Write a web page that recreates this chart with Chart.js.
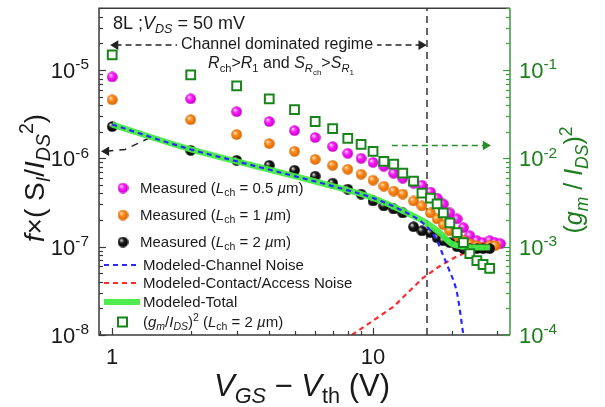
<!DOCTYPE html>
<html>
<head>
<meta charset="utf-8">
<script src="https://cdn.jsdelivr.net/npm/chart.js@4.4.0/dist/chart.umd.min.js"></script>
<style>
html, body { margin: 0; padding: 0; background: #fff; }
#wrap { position: relative; width: 605px; height: 407px; }
</style>
</head>
<body>
<div id="wrap"><canvas id="noiseChart" width="605" height="407"></canvas></div>
<script>
// V_GS - V_th values shared by the measured series
const vgs = [1, 2, 3, 4, 5, 6, 7, 8, 9, 10, 11, 12, 13, 14.3, 15.4, 16.6, 17.6, 18.6, 19.7, 21, 22.2, 23.5, 25, 26.4, 28, 29.4, 30.8];

// f x (S_I / I_DS^2), left axis
const measured05 = [8.34e-6, 4.72e-6, 3.37e-6, 2.61e-6, 2.06e-6, 1.72e-6, 1.36e-6, 1.14e-6, 1.0e-6, 9.0e-7, 8.13e-7, 6.78e-7, 5.96e-7, 5.24e-7, 4.97e-7, 4.15e-7, 3.55e-7, 3.04e-7, 2.41e-7, 2.06e-7, 1.64e-7, 1.33e-7, 1.17e-7, 1.11e-7, 1.17e-7, 1.11e-7, 1.08e-7];
const measured1 = [4.60e-6, 2.74e-6, 1.86e-6, 1.47e-6, 1.20e-6, 9.75e-7, 8.34e-7, 7.52e-7, 6.61e-7, 5.66e-7, 4.84e-7, 4.26e-7, 3.94e-7, 3.29e-7, 2.89e-7, 2.41e-7, 2.06e-7, 1.77e-7, 1.51e-7, 1.30e-7, 1.17e-7, 1.08e-7, 1.03e-7, 9.75e-8, 1.03e-7, 1.03e-7, null];
const measured2 = [2.29e-6, 1.23e-6, 9.50e-7, 8.34e-7, 7.33e-7, 6.28e-7, 5.24e-7, 4.48e-7, 3.94e-7, 3.29e-7, 2.89e-7, 2.67e-7, 2.41e-7, 1.68e-7, 1.51e-7, 1.44e-7, 1.26e-7, 1.17e-7, 1.11e-7, 1.0e-7, 9.5e-8, 9.5e-8, 9.5e-8, 9.5e-8, 9.5e-8, null, null];

// (gm/IDS)^2 for Lch = 2 um, right axis
const gmRatio = [0.148, 0.0879, 0.0661, 0.0472, 0.0356, 0.0261, 0.0217, 0.0168, 0.0144, 0.0120, 0.00925, 0.00857, 0.00678, 0.00552, 0.00404, 0.00355, 0.00304, 0.00241, 0.00186, 0.00144, 0.00111, 0.000834, 0.000696, 0.000628, 0.000566, null, null];

// modeled curves
const totalV = [1, 2, 3, 5, 7, 10, 13, 16, 18, 20, 22, 25, 28];
const modelTotal = [2.41e-6, 1.26e-6, 9.25e-7, 6.28e-7, 4.84e-7, 3.55e-7, 2.54e-7, 1.86e-7, 1.44e-7, 1.08e-7, 1.0e-7, 9.8e-8, 9.8e-8];
const channelV = [1, 2, 3, 5, 7, 10, 13, 15, 16.5, 17.5, 18.6, 19.5, 21, 22.2];
const channelNoise = [2.41e-6, 1.26e-6, 9.25e-7, 6.28e-7, 4.84e-7, 3.55e-7, 2.54e-7, 2.0e-7, 1.55e-7, 1.2e-7, 7.9e-8, 5.6e-8, 2.96e-8, 1.0e-8];
const contactV = [8.3, 12, 15.5, 18, 20.5, 23.5];
const contactNoise = [1e-8, 2.1e-8, 4.4e-8, 6.0e-8, 7.5e-8, 9.0e-8];

// annotation arrows / regime boundary
const regimeEdge = 16.1;
const regimeArrowV = [1.03, 15.3];
const regimeArrowY = 1.91e-5;
const leftArrowV = [0.95, 1.12, 1.4];
const leftArrowY = [1.2e-6, 1.26e-6, 1.72e-6];
const rightArrowV = [11.8, 27];
const rightArrowY = 0.014;

const X_MIN = 0.89, X_MAX = 33.5;
const Y_MIN = 1e-8, Y_MAX = 5e-5;
const Y2_MIN = 1e-4, Y2_MAX = 0.5;

const FONT = '"Liberation Sans", Arial, Helvetica, sans-serif';
const GREEN_AX = '#1e7d1e';
const SQ_GREEN = '#17851a';

function pts(xs, ys) {
    const out = [];
    xs.forEach((x, i) => { if (ys[i] != null) out.push({ x: x, y: ys[i] }); });
    return out;
}

function ball(color, light, dark) {
    const c = document.createElement('canvas');
    c.width = 11; c.height = 11;
    const g = c.getContext('2d');
    const grad = g.createRadialGradient(3.6, 3.6, 0.3, 5.5, 5.5, 5.5);
    grad.addColorStop(0, light);
    grad.addColorStop(0.4, color);
    grad.addColorStop(1, dark);
    g.fillStyle = grad;
    g.beginPath();
    g.arc(5.5, 5.5, 5.3, 0, Math.PI * 2);
    g.fill();
    return c;
}
const ballMag = ball('#ff1cff', '#ffe0ff', '#c000c0');
const ballOra = ball('#ff8c1a', '#ffe4c8', '#d46400');
const ballBlk = ball('#1a1a1a', '#e8e8e8', '#000000');

// rich text: style flags i=italic, b=sub, B=sub-sub, p=sup
function layoutRich(ctx, parts, size) {
    let w = 0;
    const out = [];
    parts.forEach(p => {
        const t = p[0], st = p[1] || '';
        let s = size, dy = 0;
        if (st.includes('B')) { s = size * 0.5; dy = size * 0.42; }
        else if (st.includes('b')) { s = size * 0.7; dy = size * 0.22; }
        else if (st.includes('p')) { s = size * 0.7; dy = -size * 0.4; }
        const f = (st.includes('i') ? 'italic ' : '') + s.toFixed(1) + 'px ' + FONT;
        ctx.font = f;
        out.push({ t: t, f: f, dx: w, dy: dy });
        w += ctx.measureText(t).width;
    });
    return { w: w, out: out };
}
function drawRich(ctx, parts, x, y, size, align, color) {
    const L = layoutRich(ctx, parts, size);
    const x0 = align === 'center' ? x - L.w / 2 : (align === 'right' ? x - L.w : x);
    ctx.fillStyle = color;
    ctx.textAlign = 'left';
    ctx.textBaseline = 'alphabetic';
    L.out.forEach(s => { ctx.font = s.f; ctx.fillText(s.t, x0 + s.dx, y + s.dy); });
    return L.w;
}

function logTicks(min, max) {
    const out = [];
    for (let e = Math.floor(Math.log10(min)); e <= Math.ceil(Math.log10(max)); e++) {
        for (let k = 1; k <= 9; k++) {
            const v = k * Math.pow(10, e);
            if (v >= min * 0.999 && v <= max * 1.001) out.push({ v: v, major: k === 1, e: e });
        }
    }
    return out;
}

const decor = {
    id: 'decor',
    afterDatasetsDraw(chart) {
        const ctx = chart.ctx;
        const a = chart.chartArea;
        const sx = chart.scales.x, sy = chart.scales.y, sy2 = chart.scales.y2;
        ctx.save();

        // annotation text box over the dashed double arrow
        ctx.font = '16px ' + FONT;
        const t1 = 'Channel dominated regime';
        const w1 = ctx.measureText(t1).width;
        ctx.fillStyle = '#fff';
        ctx.fillRect(277 - w1 / 2 - 4, 34, w1 + 8, 18);
        drawRich(ctx, [[t1]], 277, 49, 16, 'center', '#1a1a1a');
        drawRich(ctx, [['R', 'i'], ['ch', 'b'], ['>'], ['R', 'i'], ['1', 'b'], [' and '], ['S', 'i'], ['R', 'ib'], ['ch', 'B'], ['>'], ['S', 'i'], ['R', 'ib'], ['1', 'B']], 281, 68, 16, 'center', '#1a1a1a');
        drawRich(ctx, [['8L ;'], ['V', 'i'], ['DS', 'ib'], [' = 50 mV']], 113, 29, 18, 'left', '#1a1a1a');

        // frame
        ctx.lineWidth = 1.5;
        ctx.strokeStyle = '#3a3a3a';
        ctx.beginPath();
        ctx.moveTo(a.right, a.top); ctx.lineTo(a.left, a.top);
        ctx.lineTo(a.left, a.bottom); ctx.lineTo(a.right, a.bottom);
        ctx.stroke();
        ctx.strokeStyle = '#3c9a3c';
        ctx.beginPath();
        ctx.moveTo(a.right, a.top); ctx.lineTo(a.right, a.bottom);
        ctx.stroke();

        // inward ticks
        ctx.lineWidth = 1.2;
        ctx.strokeStyle = '#3a3a3a';
        logTicks(Y_MIN, Y_MAX).forEach(t => {
            const y = Math.round(sy.getPixelForValue(t.v)) + 0.5;
            ctx.beginPath(); ctx.moveTo(a.left, y); ctx.lineTo(a.left + (t.major ? 7 : 4), y); ctx.stroke();
        });
        logTicks(X_MIN, X_MAX).forEach(t => {
            const x = Math.round(sx.getPixelForValue(t.v)) + 0.5;
            ctx.beginPath(); ctx.moveTo(x, a.bottom); ctx.lineTo(x, a.bottom - (t.major ? 7 : 4)); ctx.stroke();
        });
        ctx.strokeStyle = '#3c9a3c';
        logTicks(Y2_MIN, Y2_MAX).forEach(t => {
            const y = Math.round(sy2.getPixelForValue(t.v)) + 0.5;
            ctx.beginPath(); ctx.moveTo(a.right, y); ctx.lineTo(a.right - (t.major ? 7 : 4), y); ctx.stroke();
        });

        // tick labels
        logTicks(Y_MIN, Y_MAX).filter(t => t.major).forEach(t => {
            drawRich(ctx, [['10'], [String(t.e), 'p']], 89, sy.getPixelForValue(t.v) + 8, 22, 'right', '#1a1a1a');
        });
        logTicks(Y2_MIN, Y2_MAX).filter(t => t.major).forEach(t => {
            drawRich(ctx, [['10'], [String(t.e), 'p']], 519, sy2.getPixelForValue(t.v) + 8, 22, 'left', GREEN_AX);
        });
        [1, 10].forEach(v => {
            drawRich(ctx, [[String(v)]], sx.getPixelForValue(v), 364, 22, 'center', '#1a1a1a');
        });

        // axis titles
        drawRich(ctx, [['V', 'i'], ['GS', 'ib'], [' \u2212 '], ['V', 'i'], ['th', 'b'], [' (V)']], 302, 396, 31, 'center', '#1a1a1a');
        ctx.save();
        ctx.translate(34, 178);
        ctx.rotate(-Math.PI / 2);
        drawRich(ctx, [['f', 'i'], ['\u00d7( '], ['S'], ['I', 'ib'], ['/'], ['I', 'i'], ['DS', 'ib'], ['2', 'p'], [')']], 0, 10, 28, 'center', '#1a1a1a');
        ctx.restore();
        ctx.save();
        ctx.translate(573, 180);
        ctx.rotate(-Math.PI / 2);
        drawRich(ctx, [['('], ['g', 'i'], ['m', 'ib'], [' / '], ['I', 'i'], ['DS', 'ib'], [')'], ['2', 'p']], 0, 9, 25, 'center', GREEN_AX);
        ctx.restore();

        // legend
        const lf = 15;
        const rows = [
            { y: 188, img: ballMag, parts: [['Measured ('], ['L', 'i'], ['ch', 'b'], [' = 0.5 '], ['\u00b5', 'i'], ['m)']] },
            { y: 215, img: ballOra, parts: [['Measured ('], ['L', 'i'], ['ch', 'b'], [' = 1 '], ['\u00b5', 'i'], ['m)']] },
            { y: 242, img: ballBlk, parts: [['Measured ('], ['L', 'i'], ['ch', 'b'], [' = 2 '], ['\u00b5', 'i'], ['m)']] },
            { y: 265, line: { c: '#2a2aff', w: 2, d: [5, 4] }, parts: [['Modeled-Channel Noise']] },
            { y: 283, line: { c: '#ff2a2a', w: 2, d: [5, 4] }, parts: [['Modeled-Contact/Access Noise']] },
            { y: 302, line: { c: 'rgba(70,235,70,0.95)', w: 6, d: [] }, parts: [['Modeled-Total']] },
            { y: 322, square: true, parts: [['('], ['g', 'i'], ['m', 'ib'], ['/'], ['I', 'i'], ['DS', 'ib'], [')'], ['2', 'p'], [' ('], ['L', 'i'], ['ch', 'b'], [' = 2 '], ['\u00b5', 'i'], ['m)']] }
        ];
        rows.forEach(r => {
            if (r.img) {
                ctx.drawImage(r.img, 123 - 5.5, r.y - 5.5);
            } else if (r.line) {
                ctx.save();
                ctx.strokeStyle = r.line.c; ctx.lineWidth = r.line.w; ctx.setLineDash(r.line.d);
                ctx.beginPath(); ctx.moveTo(104, r.y); ctx.lineTo(140, r.y); ctx.stroke();
                ctx.restore();
            } else if (r.square) {
                ctx.save();
                ctx.strokeStyle = SQ_GREEN; ctx.lineWidth = 2; ctx.fillStyle = '#fff';
                ctx.fillRect(118, r.y - 4.5, 9, 9); ctx.strokeRect(118, r.y - 4.5, 9, 9);
                ctx.restore();
            }
            drawRich(ctx, r.parts, r.img ? 140 : 143, r.y + 5, lf, 'left', '#1a1a1a');
        });

        ctx.restore();
    }
};

const ctx = document.getElementById('noiseChart').getContext('2d');
window.noiseChart = new Chart(ctx, {
    type: 'scatter',
    data: {
        datasets: [
            {
                label: '(gm/IDS)^2',
                data: pts(vgs, gmRatio),
                yAxisID: 'y2',
                pointStyle: 'rect',
                pointRadius: 6.2,
                borderColor: SQ_GREEN,
                backgroundColor: '#ffffff',
                borderWidth: 2,
                order: 0
            },
            {
                label: 'Modeled-Channel Noise',
                data: pts(channelV, channelNoise),
                showLine: true,
                borderColor: '#2a2aff',
                borderWidth: 2.2,
                borderDash: [5, 4],
                pointRadius: 0,
                cubicInterpolationMode: 'monotone',
                order: 1
            },
            {
                label: 'Modeled-Total',
                data: pts(totalV, modelTotal),
                showLine: true,
                borderColor: 'rgba(70,235,70,0.95)',
                borderWidth: 6,
                pointRadius: 0,
                cubicInterpolationMode: 'monotone',
                order: 2
            },
            {
                label: 'Measured (Lch = 2 um)',
                data: pts(vgs, measured2),
                pointStyle: ballBlk,
                pointRadius: 5,
                order: 3
            },
            {
                label: 'Measured (Lch = 1 um)',
                data: pts(vgs, measured1),
                pointStyle: ballOra,
                pointRadius: 5,
                order: 4
            },
            {
                label: 'Measured (Lch = 0.5 um)',
                data: pts(vgs, measured05),
                pointStyle: ballMag,
                pointRadius: 5,
                order: 5
            },
            {
                label: 'Modeled-Contact/Access Noise',
                data: pts(contactV, contactNoise),
                showLine: true,
                borderColor: '#ff2a2a',
                borderWidth: 2.2,
                borderDash: [5, 4],
                pointRadius: 0,
                order: 6
            },
            {
                label: 'regime edge',
                data: [{ x: regimeEdge, y: Y_MIN }, { x: regimeEdge, y: Y_MAX }],
                showLine: true,
                borderColor: '#333',
                borderWidth: 1.5,
                borderDash: [7, 5],
                pointRadius: 0,
                order: 7
            },
            {
                label: 'regime arrow',
                data: regimeArrowV.map(v => ({ x: v, y: regimeArrowY })),
                showLine: true,
                borderColor: '#222',
                borderWidth: 1.5,
                borderDash: [6, 4],
                pointStyle: 'triangle',
                pointRotation: [-90, 90],
                pointRadius: 4,
                pointBackgroundColor: '#222',
                pointBorderColor: '#222',
                order: 8
            },
            {
                label: 'left arrow',
                data: pts(leftArrowV, leftArrowY),
                showLine: true,
                borderColor: '#222',
                borderWidth: 1.5,
                borderDash: [7, 6],
                pointStyle: 'triangle',
                pointRotation: [-90, 0, 0],
                pointRadius: [4, 0, 0],
                pointBackgroundColor: '#222',
                pointBorderColor: '#222',
                order: 9
            },
            {
                label: 'right arrow',
                data: rightArrowV.map(v => ({ x: v, y: rightArrowY })),
                yAxisID: 'y2',
                showLine: true,
                borderColor: '#2a8f2a',
                borderWidth: 1.5,
                borderDash: [6, 4],
                pointStyle: 'triangle',
                pointRotation: [0, 90],
                pointRadius: [0, 4],
                pointBackgroundColor: '#2a8f2a',
                pointBorderColor: '#2a8f2a',
                order: 10
            }
        ]
    },
    options: {
        responsive: false,
        animation: false,
        devicePixelRatio: 1,
        events: [],
        layout: { padding: { left: 99, right: 95, top: 6, bottom: 72 } },
        plugins: { legend: { display: false }, tooltip: { enabled: false } },
        scales: {
            x: { type: 'logarithmic', min: X_MIN, max: X_MAX, display: false },
            y: { type: 'logarithmic', min: Y_MIN, max: Y_MAX, display: false },
            y2: { type: 'logarithmic', position: 'right', min: Y2_MIN, max: Y2_MAX, display: false }
        }
    },
    plugins: [decor]
});
</script>
</body>
</html>
